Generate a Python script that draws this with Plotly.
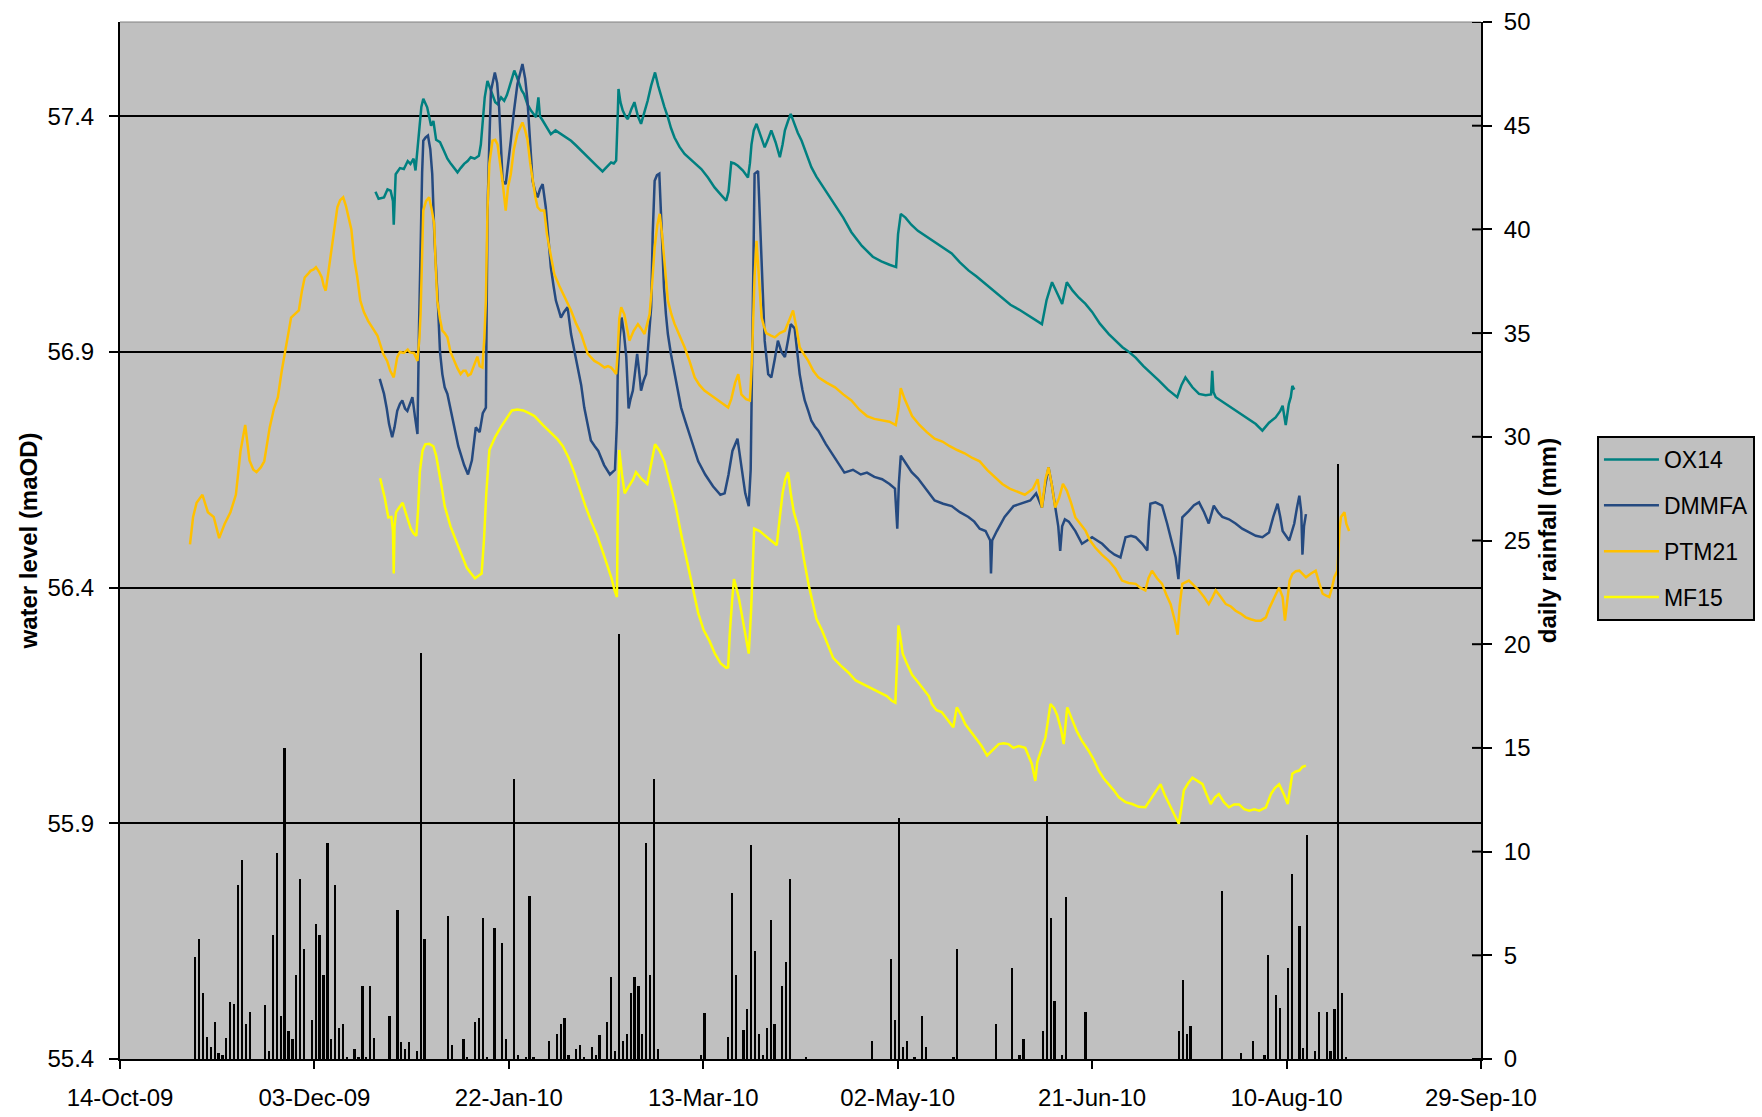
import datetime as dt
import plotly.graph_objects as go

BASE = dt.datetime(2009, 10, 14)

# ---------------- data (day offsets from 14-Oct-09) ----------------
ox14_days = [65.7,66.5,67.9,68.8,69.6,70.2,70.4,70.7,70.9,72.0,73.0,74.0,74.7,75.5,76.0,76.5,76.9,77.5,78.0,79.0,80.0,80.6,81.3,82.3,83.3,84.2,85.1,86.0,86.8,87.6,88.5,89.4,90.2,91.2,92.3,92.8,93.2,93.8,94.5,95.2,95.8,96.5,97.1,98.0,98.8,99.5,100.1,100.8,101.4,102.0,102.7,103.3,103.9,104.8,105.7,106.4,107.0,107.6,108.0,108.7,109.8,110.8,112.0,113.4,114.6,116.0,117.3,118.6,119.8,121.1,122.6,124.1,125.2,126.3,127.0,127.6,128.0,128.2,128.7,129.3,130.0,130.6,131.5,132.3,133.2,134.0,134.9,135.7,136.6,137.6,138.4,139.2,140.0,140.9,141.7,142.6,143.9,145.2,146.6,148.0,149.5,151.2,152.9,154.4,155.9,156.5,157.2,158.0,158.9,160.2,161.5,162.0,162.4,163.0,163.7,164.7,165.8,166.6,167.5,168.6,169.7,170.4,171.0,171.8,172.5,173.4,174.3,175.3,176.5,177.8,179.1,180.4,182.1,183.8,186.0,188.1,190.8,193.6,195.8,197.9,199.6,200.1,200.8,202.0,203.5,205.2,207.3,209.5,211.7,213.9,216.0,218.2,220.3,222.5,224.7,226.9,229.0,231.2,233.4,235.6,237.1,238.3,239.7,241.0,242.3,243.5,245.0,246.6,248.3,250.0,252.0,254.3,256.0,257.8,259.5,261.2,263.2,265.2,267.2,269.5,271.9,273.0,274.0,275.8,277.5,279.2,280.6,280.9,281.2,281.8,284.3,286.9,289.5,292.1,293.8,295.5,297.2,298.4,299.0,299.8,300.6,301.1,301.5,302.0]
ox14_vals = [57.24,57.225,57.228,57.245,57.242,57.22,57.17,57.235,57.277,57.29,57.288,57.305,57.299,57.31,57.285,57.33,57.362,57.42,57.437,57.419,57.38,57.39,57.35,57.345,57.327,57.31,57.299,57.29,57.281,57.29,57.299,57.305,57.313,57.31,57.316,57.34,57.384,57.44,57.475,57.46,57.447,57.43,57.426,57.44,57.433,57.445,57.461,57.48,57.497,57.485,57.468,57.455,57.447,57.425,57.412,57.405,57.398,57.44,57.4,57.391,57.375,57.362,57.37,57.362,57.355,57.348,57.338,57.327,57.318,57.306,57.295,57.283,57.292,57.302,57.3,57.306,57.4,57.458,57.43,57.412,57.4,57.394,57.415,57.43,57.4,57.384,57.41,57.433,57.465,57.493,57.465,57.44,57.42,57.398,57.375,57.355,57.335,57.32,57.31,57.298,57.288,57.27,57.249,57.235,57.221,57.24,57.302,57.3,57.295,57.285,57.27,57.3,57.34,57.37,57.384,57.36,57.334,57.35,57.37,57.345,57.313,57.34,57.37,57.39,57.405,57.385,57.365,57.348,57.32,57.292,57.272,57.256,57.235,57.214,57.185,57.154,57.125,57.102,57.092,57.085,57.08,57.15,57.193,57.185,57.17,57.157,57.145,57.133,57.12,57.109,57.09,57.073,57.06,57.045,57.03,57.014,57.0,56.99,56.978,56.966,56.959,57.01,57.048,57.025,57.002,57.048,57.03,57.015,57.002,56.985,56.96,56.938,56.925,56.91,56.9,56.888,56.87,56.855,56.839,56.82,56.804,56.83,56.846,56.825,56.811,56.808,56.81,56.86,56.815,56.804,56.79,56.775,56.76,56.747,56.733,56.75,56.761,56.775,56.786,56.745,56.79,56.804,56.828,56.82]

dmmfa_days = [66.8,67.9,68.6,69.2,70.0,70.6,71.3,72.0,72.6,73.3,73.9,74.6,75.2,75.9,76.5,76.9,77.3,77.7,78.0,78.6,79.2,79.8,80.3,80.9,81.8,82.3,82.9,83.5,84.2,85.0,85.9,87.0,88.5,89.5,90.5,91.5,92.5,93.3,94.1,94.3,94.5,95.0,95.4,96.4,97.0,97.5,98.0,98.4,99.2,99.9,100.5,101.3,102.2,103.5,104.2,104.8,105.5,106.1,106.8,107.4,108.0,108.7,109.5,110.2,110.8,111.5,112.1,112.8,113.4,114.2,115.1,116.0,116.8,117.7,118.6,119.4,120.2,121.1,122.1,123.0,124.5,126.0,127.3,127.8,128.0,128.5,129.0,129.6,130.2,130.8,131.3,131.9,132.5,133.0,133.5,134.0,134.7,135.3,136.0,136.6,137.0,137.5,138.1,138.7,139.3,139.9,140.4,140.9,141.7,142.6,143.4,144.3,145.5,147.0,148.7,150.5,152.5,154.4,155.5,156.5,157.5,158.8,159.8,160.8,161.7,162.2,162.6,163.0,163.2,164.1,164.5,164.9,165.3,165.8,166.7,167.5,168.4,169.2,170.1,171.0,171.8,172.5,173.5,174.2,174.8,175.5,176.1,177.0,177.8,178.7,179.6,181.5,183.4,185.0,186.3,188.5,190.5,192.1,194.0,196.0,197.9,199.3,199.9,200.3,200.8,202.0,203.6,205.2,207.3,209.5,211.7,213.9,216.0,218.2,219.7,221.1,222.6,223.8,224.0,224.3,225.5,227.5,229.8,232.0,234.1,235.6,237.1,238.0,238.8,239.6,240.5,241.3,241.8,242.3,243.0,244.0,245.7,247.4,248.7,250.0,251.3,252.6,254.3,255.8,257.3,258.6,260.0,261.2,262.9,264.2,264.6,265.0,266.3,268.0,269.3,270.2,271.5,272.2,272.7,273.2,274.9,276.2,277.5,278.8,280.0,281.3,282.4,283.5,285.2,286.9,288.6,290.4,292.1,293.8,295.5,296.6,297.7,298.4,299.0,300.7,302.0,302.7,303.3,303.8,304.1,304.5,305.0]
dmmfa_vals = [56.843,56.811,56.78,56.747,56.719,56.74,56.775,56.79,56.797,56.78,56.775,56.79,56.804,56.76,56.726,56.95,57.136,57.28,57.348,57.355,57.359,57.33,57.278,57.136,56.995,56.9,56.853,56.825,56.811,56.78,56.747,56.70,56.66,56.64,56.67,56.74,56.73,56.77,56.782,56.95,57.193,57.35,57.454,57.493,57.47,57.419,57.33,57.263,57.256,57.3,57.348,57.41,57.468,57.511,57.48,57.433,57.34,57.263,57.24,57.228,57.245,57.256,57.207,57.14,57.08,57.04,57.009,56.99,56.973,56.985,56.995,56.938,56.905,56.875,56.83,56.782,56.745,56.712,56.70,56.69,56.66,56.64,56.65,56.75,56.853,56.93,56.973,56.94,56.89,56.78,56.80,56.818,56.86,56.896,56.86,56.818,56.84,56.853,56.93,56.995,57.15,57.263,57.275,57.278,57.16,57.037,56.98,56.938,56.895,56.853,56.82,56.782,56.75,56.71,56.668,56.64,56.615,56.597,56.6,56.64,56.69,56.716,56.66,56.6,56.573,56.65,56.9,57.2,57.278,57.284,57.2,57.1,57.0,56.924,56.853,56.846,56.885,56.924,56.9,56.889,56.925,56.959,56.95,56.9,56.853,56.82,56.797,56.775,56.754,56.742,56.733,56.705,56.68,56.66,56.644,56.65,56.64,56.644,56.635,56.63,56.62,56.61,56.525,56.62,56.68,56.665,56.645,56.632,56.61,56.585,56.578,56.573,56.56,56.55,56.54,56.525,56.52,56.5,56.43,56.5,56.52,56.55,56.573,56.58,56.585,56.6,56.57,56.62,56.655,56.62,56.57,56.53,56.478,56.53,56.545,56.54,56.52,56.493,56.5,56.507,56.5,56.493,56.479,56.47,56.464,56.507,56.51,56.507,56.493,56.479,56.54,56.578,56.581,56.574,56.536,56.507,56.464,56.418,56.48,56.549,56.563,56.575,56.581,56.56,56.536,56.574,56.56,56.55,56.545,56.536,56.525,56.517,56.51,56.507,56.517,56.55,56.578,56.55,56.52,56.5,56.536,56.57,56.595,56.56,56.47,56.53,56.556]

ptm21_days = [18.0,18.8,19.7,21.2,22.6,24.1,25.5,26.9,28.4,29.8,31.0,32.2,33.3,34.3,35.1,36.2,37.1,38.5,39.6,40.6,41.6,42.6,43.3,44.0,45.0,46.0,46.8,47.5,48.3,49.0,49.8,50.4,51.2,51.9,52.4,52.9,53.6,54.4,55.2,55.9,56.6,57.4,58.1,58.8,59.5,60.3,61.0,61.8,62.7,63.8,65.0,66.2,67.7,68.7,69.5,70.4,71.3,72.0,73.0,74.0,74.6,75.6,76.5,77.0,77.3,77.7,78.0,78.7,79.5,80.2,80.8,81.2,81.6,82.3,82.9,83.5,84.2,85.0,85.9,86.8,87.6,88.3,88.9,89.5,90.2,91.0,91.9,92.5,93.2,93.7,94.1,94.5,95.0,95.8,96.5,97.1,97.8,98.4,99.2,99.8,100.5,101.3,102.2,103.5,104.2,104.8,105.5,106.1,106.8,107.4,108.2,109.1,109.8,110.4,111.7,113.0,114.3,115.2,116.0,117.3,118.6,119.5,120.3,121.2,122.0,123.3,124.6,125.5,126.3,127.0,127.6,128.0,128.4,128.9,129.7,130.4,131.0,132.1,133.2,134.0,134.9,135.6,136.2,136.9,137.5,138.2,138.8,139.4,140.0,140.5,140.9,141.8,142.6,143.9,145.2,146.5,147.8,149.0,150.3,152.0,153.8,155.1,156.4,157.2,158.2,159.0,159.8,161.0,162.0,162.5,162.8,163.2,163.7,164.3,165.0,165.6,166.2,167.3,168.4,169.7,171.0,172.0,173.1,174.0,174.8,175.9,177.0,178.3,179.6,181.7,183.9,186.0,188.1,190.1,192.1,194.0,196.0,197.9,199.5,200.2,200.8,201.8,203.7,205.6,207.5,209.5,211.5,213.4,215.3,217.2,219.2,221.1,223.0,224.9,226.9,228.8,230.8,232.7,234.8,236.0,237.1,238.0,238.8,239.6,240.5,241.5,242.5,243.5,244.6,245.7,247.0,248.3,249.5,250.8,252.5,254.3,256.0,257.7,259.4,261.2,262.4,263.7,264.5,265.4,266.7,268.0,269.1,270.2,271.5,272.0,272.5,273.2,274.9,276.2,277.5,278.8,280.0,281.0,281.8,283.1,284.4,285.7,286.9,288.2,289.5,290.8,292.1,293.4,294.7,295.5,296.4,297.2,298.1,299.0,299.6,300.2,300.8,301.5,302.4,303.3,304.1,305.0,306.3,307.5,308.4,309.3,310.2,311.0,311.7,312.3,313.1,313.6,314.0,314.9,315.4,316.1]
ptm21_vals = [56.492,56.55,56.58,56.597,56.56,56.55,56.505,56.535,56.56,56.597,56.69,56.745,56.67,56.65,56.645,56.655,56.668,56.74,56.78,56.804,56.86,56.903,56.94,56.973,56.98,56.988,57.03,57.058,57.065,57.072,57.075,57.08,57.07,57.058,57.04,57.03,57.07,57.115,57.165,57.207,57.222,57.228,57.21,57.186,57.16,57.094,57.06,57.009,56.985,56.966,56.95,56.935,56.896,56.881,56.86,56.846,56.889,56.9,56.898,56.905,56.899,56.898,56.881,56.93,56.98,57.12,57.2,57.22,57.228,57.2,57.172,57.08,57.009,56.97,56.945,56.94,56.931,56.9,56.881,56.865,56.853,56.86,56.86,56.85,56.853,56.87,56.89,56.87,56.867,56.93,57.009,57.2,57.3,57.348,57.35,57.34,57.3,57.26,57.2,57.25,57.277,57.33,57.363,57.387,57.37,57.35,57.3,57.263,57.23,57.207,57.2,57.2,57.15,57.122,57.065,57.04,57.016,57.0,56.988,56.96,56.938,56.915,56.896,56.888,56.881,56.875,56.867,56.87,56.867,56.86,56.853,56.9,56.97,56.995,56.98,56.95,56.924,56.945,56.959,56.95,56.938,56.96,56.98,57.05,57.122,57.17,57.193,57.15,57.1,57.05,57.009,56.98,56.96,56.935,56.91,56.88,56.846,56.83,56.818,56.808,56.797,56.79,56.782,56.80,56.835,56.853,56.81,56.80,56.797,56.88,56.959,57.06,57.136,57.06,56.973,56.955,56.94,56.935,56.931,56.94,56.945,56.965,56.988,56.95,56.91,56.895,56.881,56.86,56.846,56.835,56.825,56.81,56.797,56.778,56.764,56.758,56.755,56.752,56.745,56.78,56.823,56.8,56.764,56.745,56.73,56.716,56.71,56.7,56.692,56.685,56.675,56.668,56.65,56.635,56.62,56.61,56.603,56.597,56.61,56.63,56.57,56.63,56.655,56.62,56.57,56.59,56.62,56.606,56.58,56.549,56.535,56.521,56.5,56.485,56.47,56.457,56.44,56.415,56.41,56.408,56.40,56.394,56.42,56.436,56.42,56.408,56.385,56.365,56.323,56.30,56.36,56.408,56.415,56.405,56.394,56.38,56.365,56.38,56.394,56.38,56.365,56.36,56.351,56.345,56.337,56.333,56.33,56.33,56.337,56.355,56.372,56.385,56.40,56.38,56.33,56.38,56.415,56.429,56.435,56.436,56.43,56.422,56.43,56.436,56.41,56.387,56.383,56.38,56.40,56.422,56.436,56.52,56.55,56.56,56.535,56.52]

mf15_days = [66.9,67.5,68.1,69.0,69.8,70.2,70.4,70.6,71.0,71.8,72.7,73.8,74.8,75.5,76.2,76.7,77.1,77.8,78.5,79.5,80.6,81.3,82.0,82.8,83.5,85.0,86.4,87.8,89.2,90.3,91.3,92.2,93.0,93.6,94.2,95.0,96.5,97.9,99.4,100.8,102.2,103.7,105.2,106.6,108.8,111.0,112.5,113.9,115.4,116.8,118.2,119.7,121.2,122.6,124.0,125.5,126.4,127.2,127.8,128.0,128.4,129.1,129.8,130.5,131.3,132.0,132.7,134.2,135.6,136.6,137.6,138.8,140.0,141.5,142.9,144.4,145.8,147.3,148.7,150.1,151.6,153.0,154.5,155.9,156.4,156.8,157.4,157.9,158.5,159.1,160.2,161.0,161.7,162.3,162.7,163.1,164.5,166.0,167.4,168.9,169.7,170.4,171.1,171.8,172.5,173.3,174.0,174.7,175.9,177.1,178.1,179.1,180.5,182.0,183.4,185.3,187.3,189.2,191.1,193.1,195.0,197.2,198.5,199.4,199.9,200.2,200.6,201.3,202.3,203.7,205.2,206.6,208.0,208.8,210.0,211.3,212.8,214.3,215.2,216.3,217.4,218.7,219.9,221.5,223.0,224.5,226.0,227.3,228.5,229.8,231.1,232.8,234.5,235.4,235.9,236.7,238.0,238.7,239.3,240.2,241.0,242.0,242.7,243.6,244.8,246.1,247.4,249.1,250.4,251.7,253.0,254.3,255.6,256.9,258.6,260.3,262.0,263.7,264.6,265.5,266.5,267.6,268.7,269.8,271.0,272.3,273.0,273.6,274.7,275.8,277.1,278.4,279.5,280.5,281.6,282.6,283.9,285.2,286.5,287.8,289.1,290.4,291.7,293.0,294.7,296.0,297.0,298.1,299.4,300.3,301.5,302.4,303.3,304.1,305.0]
mf15_vals = [56.632,56.61,56.59,56.549,56.55,56.52,56.43,56.53,56.56,56.57,56.58,56.55,56.525,56.515,56.51,56.57,56.645,56.69,56.704,56.705,56.70,56.68,56.65,56.61,56.573,56.53,56.5,56.47,56.442,56.43,56.42,56.425,56.43,56.5,56.6,56.692,56.72,56.74,56.76,56.776,56.778,56.776,56.77,56.764,56.745,56.728,56.715,56.70,56.675,56.645,56.61,56.573,56.54,56.513,56.48,56.442,56.42,56.394,56.38,56.55,56.692,56.64,56.6,56.61,56.62,56.63,56.645,56.63,56.62,56.66,56.704,56.69,56.668,56.62,56.573,56.51,56.454,56.40,56.346,56.31,56.287,56.26,56.239,56.23,56.231,56.30,56.37,56.418,56.40,56.38,56.33,56.29,56.26,56.35,56.45,56.525,56.52,56.51,56.50,56.49,56.55,56.6,56.63,56.645,56.6,56.56,56.54,56.52,56.46,56.406,56.37,56.334,56.31,56.28,56.251,56.235,56.22,56.203,56.195,56.188,56.18,56.17,56.16,56.156,56.25,56.32,56.3,56.26,56.24,56.215,56.2,56.185,56.17,56.153,56.14,56.136,56.12,56.104,56.146,56.13,56.11,56.095,56.082,56.065,56.044,56.055,56.068,56.07,56.068,56.06,56.064,56.06,56.026,55.99,56.03,56.05,56.082,56.12,56.153,56.145,56.13,56.1,56.068,56.146,56.12,56.095,56.075,56.054,56.035,56.012,55.995,55.983,55.97,55.955,55.945,55.941,55.935,55.934,55.945,55.955,55.97,55.983,55.96,55.941,55.92,55.899,55.935,55.97,55.985,55.997,55.99,55.983,55.96,55.941,55.955,55.962,55.945,55.934,55.94,55.94,55.93,55.927,55.93,55.927,55.934,55.962,55.975,55.983,55.96,55.941,56.005,56.01,56.012,56.02,56.022]

rain_days = [19,20,21,22,23,24,25,26,27,28,29,30,31,32,33,37,38,39,40,41,42,43,44,45,46,47,49,50,51,52,53,54,55,56,57,58,60,61,62,63,64,65,69,71,72,73,74,76,77,78,84,85,88,89,91,92,93,94,96,98,99,101,102,104,105,106,110,112,113,114,115,117,118,119,121,122,123,125,126,127,128,129,130,131,132,133,134,135,136,137,138,149,150,156,157,158,160,161,162,163,164,165,166,167,168,170,171,172,176,193,198,199,200,201,202,204,206,207,214,215,225,229,231,232,237,238,239,240,242,243,248,272,273,274,275,283,288,291,294,295,297,298,300,301,303,304,305,307,308,310,311,312,313,314,315]
rain_mm = [4.9,5.8,3.2,1.06,0.58,1.8,0.3,0.18,1.0,2.75,2.67,8.4,9.6,1.7,2.27,2.6,0.4,6.0,9.95,2.07,15.0,1.33,0.95,4.07,8.7,5.3,1.9,6.5,6.0,4.07,10.4,0.95,8.4,1.5,1.7,0.1,0.47,0.1,3.5,0.1,3.5,1.0,2.07,7.2,0.8,0.47,0.8,0.37,19.6,5.8,6.9,0.66,0.95,0.1,1.8,2.0,6.8,0.1,6.3,5.6,0.95,13.5,0.18,0.1,7.85,0.1,0.85,1.2,1.7,2.0,0.18,0.47,0.66,0.05,0.58,0.18,1.14,1.8,3.95,0.37,20.5,0.85,1.2,3.2,3.95,3.5,1.2,10.4,4.07,13.5,0.47,0.18,2.2,1.06,8.0,4.07,1.4,2.4,10.3,5.2,1.2,0.18,1.5,6.7,1.7,3.5,4.7,8.7,0.1,0.85,4.84,1.9,11.6,0.58,0.85,0.1,2.07,0.58,0.1,5.3,1.7,4.4,0.18,0.95,1.33,11.7,6.8,2.8,0.18,7.8,2.27,1.33,3.8,1.2,1.6,8.1,0.3,0.85,0.18,5.0,3.1,2.46,4.4,8.9,6.4,0.55,10.8,0.37,2.27,2.27,0.37,2.4,28.7,3.2,0.1]

series = [
    ("OX14", ox14_days, ox14_vals, "#008080"),
    ("DMMFA", dmmfa_days, dmmfa_vals, "#254A80"),
    ("PTM21", ptm21_days, ptm21_vals, "#FFC000"),
    ("MF15", mf15_days, mf15_vals, "#FFFF00"),
]
left_ticks = [55.4, 55.9, 56.4, 56.9, 57.4]
right_ticks = list(range(0, 55, 5))


def to_date(d):
    return BASE + dt.timedelta(days=d)


fig = go.Figure()
for name, days, vals, col in series:
    fig.add_trace(go.Scatter(
        x=[to_date(d) for d in days], y=vals, mode="lines", name=name,
        legendgroup=name, line=dict(color=col, width=2.5),
    ))

fig.add_trace(go.Bar(
    x=[to_date(d + 0.4) for d in rain_days], y=rain_mm, yaxis="y2",
    width=0.45 * 86400000, marker=dict(color="black", line=dict(width=0)),
    showlegend=False, name="rain",
))

x_ticks = [to_date(50 * i) for i in range(8)]
FONT = "Liberation Sans, Arial, sans-serif"

shapes = [dict(type="line", xref="paper", yref="paper", x0=0, x1=1, y0=1, y1=1,
               line=dict(color="#808080", width=1))]
for v in right_ticks:
    shapes.append(dict(type="line", xref="paper", yref="y2", x0=1 - 9 / 1361, x1=1,
                       y0=v, y1=v, line=dict(color="black", width=2)))

fig.update_layout(
    width=1762, height=1117,
    margin=dict(l=120, r=281, t=22, b=58, autoexpand=False),
    paper_bgcolor="white", plot_bgcolor="#C0C0C0",
    font=dict(family=FONT, size=24, color="black"),
    bargap=0,
    shapes=shapes,
    legend=dict(x=1.0852, y=0.6008, xanchor="left", yanchor="top",
                bgcolor="#C0C0C0", bordercolor="black", borderwidth=2,
                font=dict(size=23), traceorder="grouped", tracegroupgap=13,
                itemwidth=55),
    xaxis=dict(type="date", range=[to_date(0), to_date(350.02)],
               tickvals=x_ticks, tickformat="%d-%b-%y", automargin=False,
               ticks="outside", ticklen=8, tickwidth=2, tickcolor="black",
               showline=True, linecolor="black", linewidth=2,
               showgrid=False, zeroline=False, ticklabelstandoff=8),
    yaxis=dict(range=[55.4, 57.6], tickvals=left_ticks, tickformat=".1f",
               automargin=False,
               ticks="outside", ticklen=9, tickwidth=2, tickcolor="black",
               showline=True, linecolor="black", linewidth=2,
               showgrid=True, gridcolor="black", gridwidth=2, zeroline=False,
               ticklabelstandoff=10,
               title=dict(text="<b>water level (maOD)</b>", standoff=3,
                          font=dict(size=24))),
    yaxis2=dict(range=[0, 50], tickvals=right_ticks, overlaying="y", side="right",
                automargin=False,
                ticks="outside", ticklen=9, tickwidth=2, tickcolor="black",
                showline=True, linecolor="black", linewidth=2,
                showgrid=False, zeroline=False, ticklabelstandoff=7,
                title=dict(text="<b>daily rainfall (mm)</b>", standoff=10,
                           font=dict(size=24))),
)

fig.write_html("out.html",
               config={"displayModeBar": False},
               post_script="document.body.style.margin='0px';"
                           "document.body.style.overflow='hidden';")
